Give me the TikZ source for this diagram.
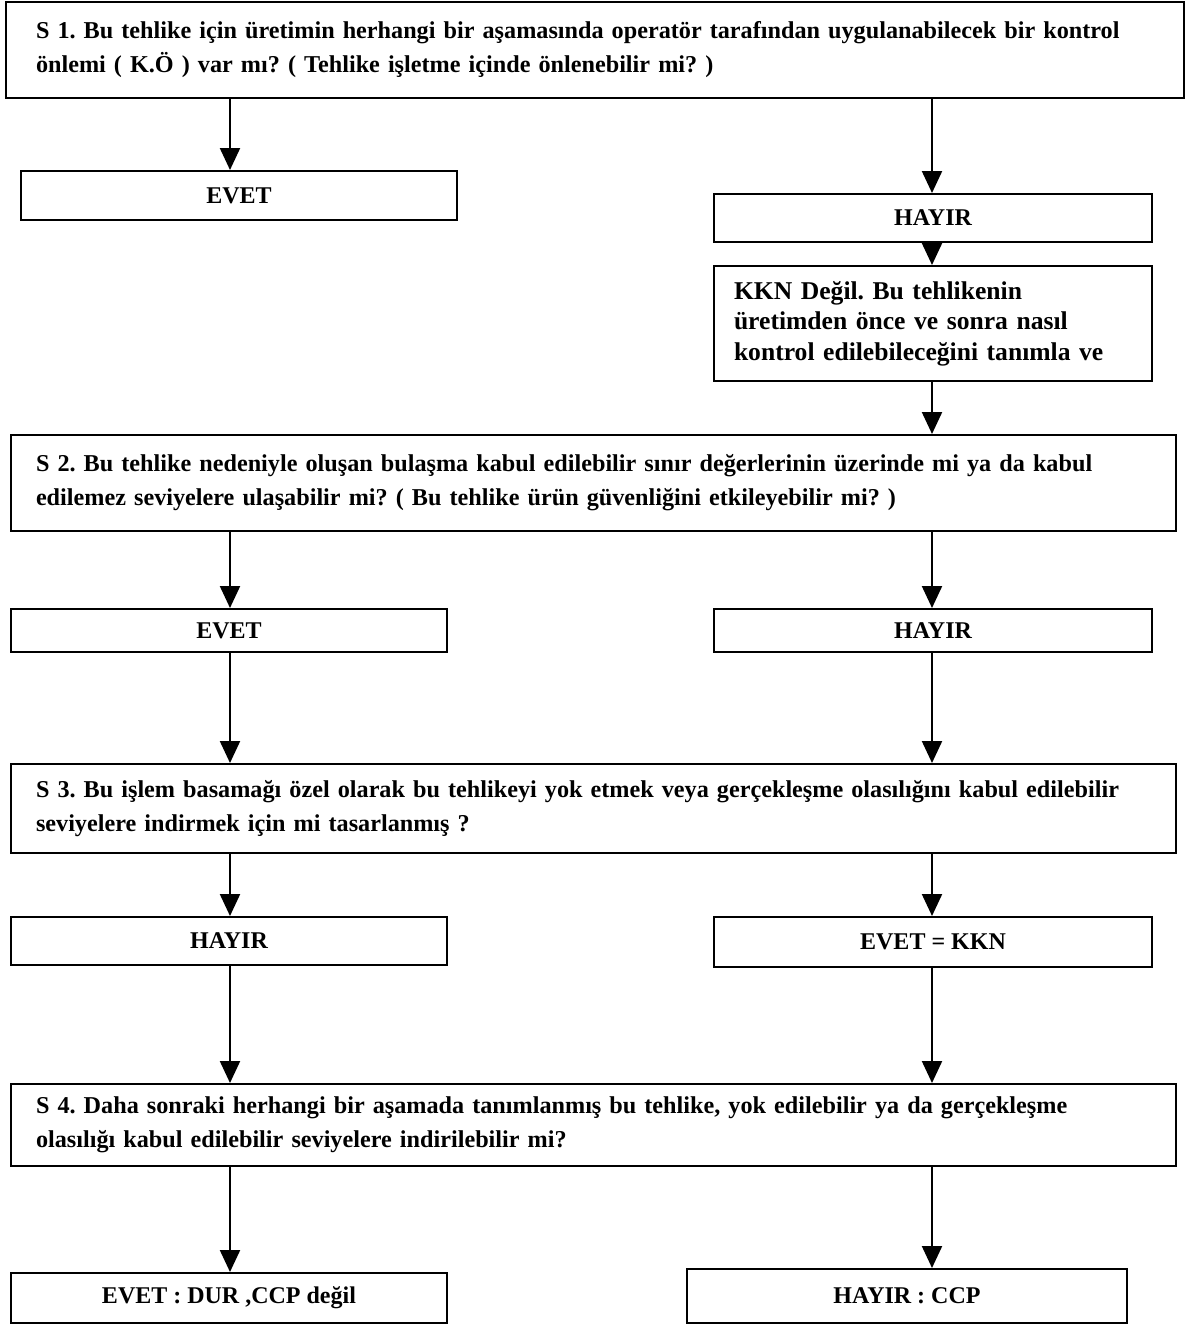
\documentclass[tikz,border=0pt]{standalone}
\usepackage{fontspec}
\setmainfont{Liberation Serif}
\usepackage{tikz}
\usetikzlibrary{arrows.meta}
\frenchspacing

\begin{document}
\begin{tikzpicture}[x=0.5pt,y=-0.5pt]
	\tikzset{
		qbox/.style={draw,line width=1pt,anchor=north west,align=left,
			inner xsep=12.5pt,text width=557.5pt,minimum height=#1,
			font=\fontsize{12.1}{17}\selectfont\bfseries},
		lbox/.style={draw,line width=1pt,anchor=north west,inner sep=0pt,
			minimum height=24pt,font=\fontsize{12}{14}\selectfont\bfseries},
		arr/.style={line width=1.1pt,-{Triangle[length=11pt,width=10pt]}}}
	\useasboundingbox (0,0) rectangle (1186,1327);
	\coordinate (lx) at (230,0);
	\coordinate (rx) at (932,0);
	\node[qbox=48pt,inner xsep=15pt,text width=559pt](s1) at (5,1){S 1. Bu tehlike için üretimin herhangi bir aşamasında operatör tarafından uygulanabilecek bir kontrol\\önlemi ( K.Ö ) var mı? ( Tehlike işletme içinde önlenebilir mi? )};
	\node[lbox,minimum width=218pt,minimum height=24.5pt](e1) at (20,170){EVET};
	\node[lbox,minimum width=219pt](h1) at (713,193){HAYIR};
	\node[draw,line width=1pt,anchor=north west,align=left,inner xsep=10pt,text width=199pt,
		minimum height=57.5pt,font=\fontsize{12.8}{15.2}\selectfont\bfseries](k1) at (713,265){KKN Değil. Bu tehlikenin\\üretimden önce ve sonra nasıl\\kontrol edilebileceğini tanımla ve};
	\node[qbox=48pt](s2) at (10,434){S 2. Bu tehlike nedeniyle oluşan bulaşma kabul edilebilir sınır değerlerinin üzerinde mi ya da kabul\\edilemez seviyelere ulaşabilir mi? ( Bu tehlike ürün güvenliğini etkileyebilir mi? )};
	\node[lbox,minimum width=218pt,minimum height=21.5pt](e2) at (10,608){EVET};
	\node[lbox,minimum width=219pt,minimum height=21.5pt](h2) at (713,608){HAYIR};
	\node[qbox=44.5pt](s3) at (10,763){S 3. Bu işlem basamağı özel olarak bu tehlikeyi yok etmek veya gerçekleşme olasılığını kabul edilebilir\\seviyelere indirmek için mi tasarlanmış ?};
	\node[lbox,minimum width=218pt](h3) at (10,916){HAYIR};
	\node[lbox,minimum width=219pt,minimum height=25pt](e3) at (713,916){EVET = KKN};
	\node[qbox=41pt](s4) at (10,1083){S 4. Daha sonraki herhangi bir aşamada tanımlanmış bu tehlike, yok edilebilir ya da gerçekleşme\\olasılığı kabul edilebilir seviyelere indirilebilir mi?};
	\node[lbox,minimum width=218pt,minimum height=25pt](e4) at (10,1272){EVET : DUR ,CCP değil};
	\node[lbox,minimum width=220pt,minimum height=27pt](h4) at (686,1268){HAYIR : CCP};
	\draw[arr](lx |- s1.south)--(lx |- e1.north);
	\draw[arr](rx |- s1.south)--(rx |- h1.north);
	\draw[arr](rx |- h1.south)--(rx |- k1.north);
	\draw[arr](rx |- k1.south)--(rx |- s2.north);
	\draw[arr](lx |- s2.south)--(lx |- e2.north);
	\draw[arr](rx |- s2.south)--(rx |- h2.north);
	\draw[arr](lx |- e2.south)--(lx |- s3.north);
	\draw[arr](rx |- h2.south)--(rx |- s3.north);
	\draw[arr](lx |- s3.south)--(lx |- h3.north);
	\draw[arr](rx |- s3.south)--(rx |- e3.north);
	\draw[arr](lx |- h3.south)--(lx |- s4.north);
	\draw[arr](rx |- e3.south)--(rx |- s4.north);
	\draw[arr](lx |- s4.south)--(lx |- e4.north);
	\draw[arr](rx |- s4.south)--(rx |- h4.north);
\end{tikzpicture}
\end{document}
